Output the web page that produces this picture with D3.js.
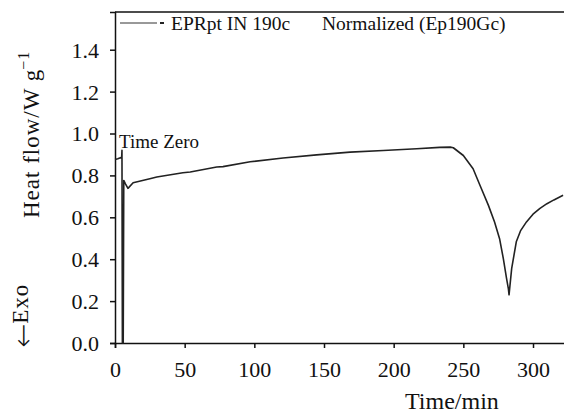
<!DOCTYPE html>
<html>
<head>
<meta charset="utf-8">
<script src="https://cdn.jsdelivr.net/npm/d3@7"></script>
<style>
  html, body { margin: 0; padding: 0; background: #fff; }
  svg { display: block; }
  text { font-family: "Liberation Serif", "Times New Roman", serif; fill: #111; }
</style>
</head>
<body>
<svg id="chart" width="564" height="414"></svg>
<script>
// ---- data ----
const timeMin = [0, 2, 4.8, 5.0, 5.3, 5.9, 6.3, 7.5, 9.3, 13, 25, 30, 48.7, 54, 73, 77.5, 97, 120.6, 144.7, 168.7, 192.6, 216.5, 233, 240.6, 242.8, 250, 257, 262, 268, 272.4, 276, 278.7, 281, 282.3, 282.8, 283.4, 284.7, 288, 291, 295.3, 300, 305, 310, 315, 321.6];
const heatFlow = [0.876, 0.880, 0.887, 0.920, 0.0, 0.0, 0.776, 0.760, 0.738, 0.765, 0.784, 0.792, 0.8126, 0.816, 0.840, 0.842, 0.865, 0.883, 0.898, 0.911, 0.919, 0.927, 0.934, 0.935, 0.932, 0.895, 0.832, 0.752, 0.657, 0.578, 0.498, 0.403, 0.308, 0.260, 0.230, 0.270, 0.356, 0.483, 0.535, 0.578, 0.615, 0.643, 0.665, 0.683, 0.705];
const xTicks = [0, 50, 100, 150, 200, 250, 300];
const yTicks = [0.0, 0.2, 0.4, 0.6, 0.8, 1.0, 1.2, 1.4];
const seriesName = "EPRpt IN 190c";
const subtitle = "Normalized (Ep190Gc)";
const annotation = "Time Zero";
const xTitle = "Time/min";

const svg = d3.select("#chart");
const x = d3.scaleLinear().domain([0, 322.6]).range([115, 564.5]);
const y = d3.scaleLinear().domain([0, 1.58]).range([343, 12]);

// top frame line
svg.append("line")
  .attr("x1", 115).attr("x2", 564).attr("y1", 12).attr("y2", 12)
  .attr("stroke", "#111").attr("stroke-width", 1.5);

// x axis
const gx = svg.append("g").attr("transform", "translate(0,343)")
  .call(d3.axisBottom(x).tickValues(xTicks).tickFormat(d3.format("d")).tickSizeOuter(0).tickSize(5));
gx.select(".domain").attr("stroke", "#111").attr("stroke-width", 1.5);
gx.selectAll(".tick line").attr("stroke", "#111").attr("stroke-width", 1.5);
gx.selectAll(".tick text").attr("y", 34).attr("dy", 0)
  .style("font-family", "Liberation Serif").style("font-size", "22px").attr("fill", "#111");

// y axis
const gy = svg.append("g").attr("transform", "translate(115,0)")
  .call(d3.axisLeft(y).tickValues(yTicks).tickFormat(d3.format(".1f")).tickSizeOuter(0).tickSize(5));
gy.select(".domain").attr("stroke", "#111").attr("stroke-width", 1.5);
gy.selectAll(".tick line").attr("stroke", "#111").attr("stroke-width", 1.5);
gy.selectAll(".tick text").attr("x", -16).attr("dy", "0.34em")
  .style("font-family", "Liberation Serif").style("font-size", "22px").attr("fill", "#111");

// curve
const pts = timeMin.map((t, i) => [t, heatFlow[i]]);
svg.append("path")
  .datum(pts)
  .attr("fill", "none")
  .attr("stroke", "#222")
  .attr("stroke-width", 1.6)
  .attr("stroke-linejoin", "round")
  .attr("d", d3.line().x(d => x(d[0])).y(d => y(d[1])));

// legend
svg.append("line").attr("x1", 120).attr("x2", 157).attr("y1", 23).attr("y2", 23)
  .attr("stroke", "#333").attr("stroke-width", 1);
svg.append("line").attr("x1", 160).attr("x2", 164).attr("y1", 23).attr("y2", 23)
  .attr("stroke", "#222").attr("stroke-width", 2);
svg.append("text").attr("x", 171).attr("y", 30).style("font-size", "19.5px").text(seriesName);
svg.append("text").attr("x", 322).attr("y", 30).style("font-size", "19.5px").text(subtitle);

// annotation
svg.append("text").attr("x", 119).attr("y", 148).style("font-size", "19px").text(annotation);

// axis titles
svg.append("text").attr("x", 405).attr("y", 409).style("font-size", "24px").text(xTitle);

const yl = svg.append("text").attr("transform", "translate(39,218) rotate(-90)")
  .style("font-size", "23px").style("letter-spacing", "1px");
yl.append("tspan").text("Heat flow/W g");
yl.append("tspan").attr("dx", -1).attr("dy", -10).style("font-size", "16px").text("\u22121");

const ex = svg.append("text").attr("transform", "translate(28,348) rotate(-90)")
  .style("font-size", "23px").style("letter-spacing", "1px");
ex.append("tspan").attr("dy", 5).style("font-family", "DejaVu Sans").style("font-weight", "200")
  .style("font-size", "29px").style("letter-spacing", "0px").text("\u2190");
ex.append("tspan").attr("dy", -5).text("Exo");
</script>
</body>
</html>
